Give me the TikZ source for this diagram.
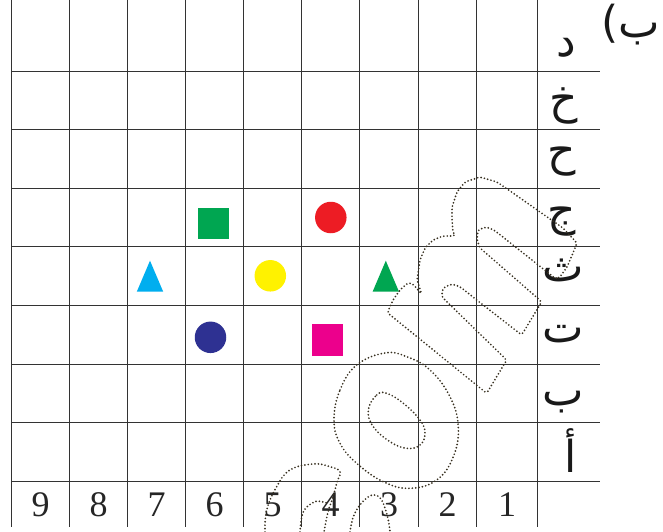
\documentclass[tikz,border=0pt]{standalone}
\usepackage{fontspec}
\setmainfont{Liberation Serif}
\newfontfamily\arabicfont[Script=Arabic]{DejaVu Sans}
\TeXXeTstate=1
\definecolor{gridc}{HTML}{333333}
\definecolor{wmc}{HTML}{383020}
\definecolor{cgreen}{HTML}{00A651}
\definecolor{cred}{HTML}{ED1C24}
\definecolor{ccyan}{HTML}{00AEEF}
\definecolor{cyellow}{HTML}{FFF200}
\definecolor{cblue}{HTML}{2E3192}
\definecolor{cmag}{HTML}{EC008C}
\begin{document}
\begin{tikzpicture}[x=1pt,y=-1pt,
  gridline/.style={draw=gridc, line width=1.25pt},
  wm/.style={draw=wmc, line width=1.9pt, dash pattern=on 0pt off 3.4pt, line cap=round},
  lbl/.style={font=\arabicfont\fontsize{44}{48}\selectfont, inner sep=0pt, text=black!90},
  num/.style={font=\fontsize{36}{40}\selectfont, inner sep=0pt, anchor=base, text=black!85},
  sqbox/.style={rectangle, minimum width=31.5pt, minimum height=31.5pt, inner sep=0pt},
  dotbox/.style={circle, minimum size=31.5pt, inner sep=0pt}]
\useasboundingbox (0,0) rectangle (663,532);
\fill[white] (0,0) rectangle (663,532);

% grid
\foreach \x in {11.5,69.5,127.5,185.5,243.5,301.5,359.5,418.5,476.5,537.5}
  \draw[gridline] (\x,0) -- (\x,527);
\foreach \y in {71.5,129.5,188.5,246.5,305.5,364.5,422.5,481.5}
  \draw[gridline] (11.5,\y) -- (600,\y);

% row labels
\node[lbl] (rd)  at (566,48)  {\beginR د\endR};
\node[lbl] (rkh) at (564,106) {\beginR خ\endR};
\node[lbl] (rh)  at (562,162) {\beginR ح\endR};
\node[lbl] (rj)  at (562,222) {\beginR ج\endR};
\node[lbl] (rth) at (563,270) {\beginR ث\endR};
\node[lbl] (rt)  at (563,334) {\beginR ت\endR};
\node[lbl] (rb)  at (563,402) {\beginR ب\endR};
\node[lbl] (ra)  at (571,451) {\beginR أ\endR};
\node[lbl] (title) at (631,25) {\beginR ب)\endR};

% column numbers
\node[num] (n9) at (40.5,516)  {9};
\node[num] (n8) at (98.5,516)  {8};
\node[num] (n7) at (156.5,516) {7};
\node[num] (n6) at (214.5,516) {6};
\node[num] (n5) at (272.5,516) {5};
\node[num] (n4) at (330.5,516) {4};
\node[num] (n3) at (389,516)   {3};
\node[num] (n2) at (447.5,516) {2};
\node[num] (n1) at (507,516)   {1};

% coloured shapes
\node[sqbox, fill=cgreen] (gsq) at (213.5,223.5) {};
\node[dotbox, fill=cred] (rdot) at (330.8,217.5) {};
\fill[ccyan] (150,260.7) -- (163.2,291.7) -- (136.8,291.7) -- cycle;
\node[dotbox, fill=cyellow] (ydot) at (270.3,275.8) {};
\fill[cgreen] (385.8,260.7) -- (399,291.7) -- (372.6,291.7) -- cycle;
\node[dotbox, fill=cblue] (bdot) at (210.5,337.3) {};
\node[sqbox, fill=cmag] (msq) at (327.6,340) {};

% dotted watermark
\draw[wm, rounded corners=2.5pt] (421.7,294) -- (417,280) -- (420,260) -- (425,248) -- (433,240) -- (443,236) -- (455,236)
  -- (453,232) -- (452,220) -- (452,207) -- (457,192) -- (465,182) -- (480,177) -- (497,182) -- (513,193)
  -- (540,212) -- (563,228) -- (577,243) -- (573,253) -- (567,267) -- (560,277) -- (556,279)
  -- (494,230) -- (486,227) -- (478,230) -- (477,240) -- (480,248) -- (541.7,301.7) -- (521.7,335)
  -- (476.7,300) -- (460,286.7) -- (451.7,284) -- (443,288) -- (441.7,296.7) -- (506.7,360)
  -- (486.7,393.3) -- (387.3,312.7) -- (393,300) -- (400,290) -- (408,282.7) -- (413,284) -- (418,290) -- cycle;
\draw[wm] plot[smooth cycle, tension=0.7] coordinates {(334,420) (340,390) (356.7,365) (385,353) (406.7,356.7)
  (430,370) (450,396.7) (458.3,426.7) (453.3,456.7) (436.7,480) (410,488.3) (383.3,481.7) (356.7,463.3) (340,443.3)};
\draw[wm] plot[smooth cycle, tension=0.7] coordinates {(368.3,410) (376.7,395) (386.7,393.3) (403.3,403.3)
  (420,420) (425,433.3) (420,445) (406.7,448.3) (390,441.7) (373.3,426.7)};
\draw[wm] plot[smooth, tension=0.7] coordinates {(265,532) (266.7,510) (276.7,486.7) (290,470) (313.3,464)
  (330,466.7) (340,471.7) (337,482) (333,497) (328,512) (324,532)};
\draw[wm] plot[smooth, tension=0.7] coordinates {(300,532) (303.3,512) (313.3,502.5) (321,501.5) (328,503.5)};
\draw[wm] plot[smooth, tension=0.7] coordinates {(350,532) (353.3,516.7) (360,505) (368,497) (375,495)
  (381,499) (385,508) (388.3,520) (390,532)};
\end{tikzpicture}
\end{document}
